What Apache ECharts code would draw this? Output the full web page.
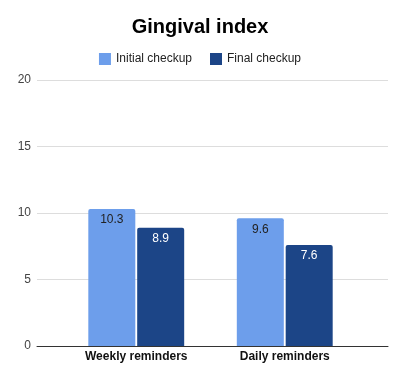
<!DOCTYPE html>
<html><head><meta charset="utf-8">
<script src="https://cdn.jsdelivr.net/npm/echarts@6/dist/echarts.min.js"></script>
<style>html,body{margin:0;padding:0;background:#fff}#c{width:400px;height:373px}</style>
</head><body><div id="c"></div>
<script>
const categories = ['Weekly reminders', 'Daily reminders'];
const initialCheckup = [10.3, 9.6];
const finalCheckup = [8.9, 7.6];
const yTicks = [0, 5, 10, 15, 20];

const chart = echarts.init(document.getElementById('c'));
chart.setOption({
  animation: false,
  title: { text: 'Gingival index', left: 'center', top: 12,
    textStyle: { fontFamily: 'Liberation Sans, Arial, sans-serif', fontSize: 20, fontWeight: 'bold', color: '#000' } },
  legend: { top: 48, left: 'center', itemWidth: 12, itemHeight: 12, itemGap: 18, icon: 'rect',
    textStyle: { fontFamily: 'Liberation Sans, Arial, sans-serif', fontSize: 12, color: '#222' },
    data: ['Initial checkup', 'Final checkup'] },
  grid: [
    { left: 37, right: 12, top: 80, bottom: 27 },
    { left: 62, right: 41, top: 80, bottom: 27 }
  ],
  xAxis: [
    { type: 'category', gridIndex: 0, data: categories, axisLine: { lineStyle: { color: '#333' } },
      axisTick: { show: false }, axisLabel: { show: false } },
    { type: 'category', gridIndex: 1, data: categories, axisLine: { show: false },
      axisTick: { show: false },
      axisLabel: { fontFamily: 'Liberation Sans, Arial, sans-serif', fontSize: 12, fontWeight: 'bold', color: '#111', margin: 5 } }
  ],
  yAxis: [
    { type: 'value', gridIndex: 0, min: yTicks[0], max: yTicks[yTicks.length - 1], interval: 5,
      axisLine: { show: false }, axisTick: { show: false },
      axisLabel: { fontFamily: 'Liberation Sans, Arial, sans-serif', fontSize: 12, color: '#444', margin: 6 },
      splitLine: { lineStyle: { color: '#dddddd' } } },
    { type: 'value', gridIndex: 1, min: yTicks[0], max: yTicks[yTicks.length - 1], interval: 5,
      show: false, splitLine: { show: false } }
  ],
  series: [
    { name: 'Initial checkup', type: 'bar', xAxisIndex: 1, yAxisIndex: 1, data: initialCheckup,
      barWidth: 47, barGap: '4%',
      itemStyle: { color: '#6d9eeb', borderRadius: [2, 2, 0, 0] },
      label: { show: true, position: 'insideTop', distance: 5, color: '#222',
        fontFamily: 'Liberation Sans, Arial, sans-serif', fontSize: 12 } },
    { name: 'Final checkup', type: 'bar', xAxisIndex: 1, yAxisIndex: 1, data: finalCheckup,
      barWidth: 47, barGap: '4%',
      itemStyle: { color: '#1c4587', borderRadius: [2, 2, 0, 0] },
      label: { show: true, position: 'insideTop', distance: 5, color: '#fff',
        fontFamily: 'Liberation Sans, Arial, sans-serif', fontSize: 12 } }
  ]
});
</script></body></html>
